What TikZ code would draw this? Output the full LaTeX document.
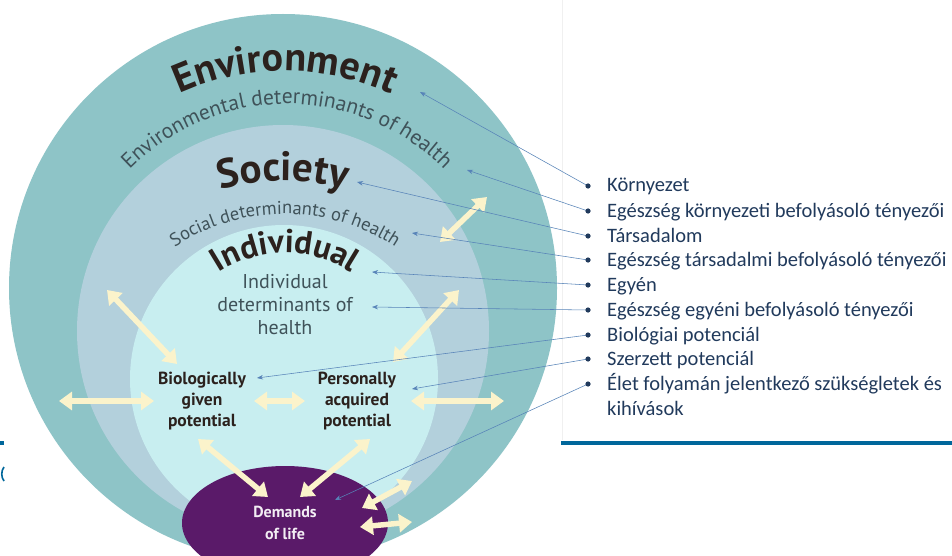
\documentclass[tikz,border=0pt]{standalone}
\usepackage{fontspec}
\setmainfont{PT Sans}
\newfontfamily\listfont{Carlito}
\usetikzlibrary{arrows.meta, decorations.text, shapes.geometric}

\definecolor{envteal}{HTML}{8EC4C7}
\definecolor{socblue}{HTML}{B3D0DC}
\definecolor{indcyan}{HTML}{C8EEF0}
\definecolor{lifepurple}{HTML}{5A1A69}
\definecolor{arrowcream}{HTML}{FBF3CB}
\definecolor{headdark}{HTML}{2B211D}
\definecolor{subgray}{HTML}{3F5259}
\definecolor{listnavy}{HTML}{213A5C}
\definecolor{pointblue}{HTML}{5783B8}
\definecolor{barblue}{HTML}{00679B}

\tikzset{
  twoway/.style={draw=arrowcream, line width=5.5pt,
    {Triangle[width=18pt,length=13pt]}-{Triangle[width=18pt,length=13pt]}},
  pointer/.style={draw=pointblue, line width=0.55pt, -{Stealth[length=6pt,width=4.5pt]}},
  item/.style={anchor=base west, inner sep=0pt, text=listnavy,
    font=\listfont\fontsize{20.5}{24}\selectfont},
  potential/.style={align=center, text=headdark,
    font=\bfseries\fontsize{17.5}{21}\selectfont},
}

% text on an arc: center, radius, half angle, format, text
\newcommand{\arctext}[5]{%
  \path[decorate, decoration={text along path, text align=center,
      text={|#4|#5}}]
    (#1) ++(-90-#3:#2) arc[start angle=-90-#3, end angle=-90+#3, radius=#2];}

\begin{document}
\begin{tikzpicture}[x=1pt, y=-1pt]

  \clip (0,0) rectangle (952,556);
  \fill[white] (0,0) rectangle (952,556);

  % faint edge of the pasted picture
  \draw[black!6] (562,0) -- (562,440);

  % the three circles
  \fill[envteal] (283,288) circle (274);
  \fill[socblue] (283,331) circle (206);
  \fill[indcyan] (284,379) circle (154);

  % titles along the circles
  \arctext{285,326}{255}{40}{\fontsize{40}{40}\selectfont\bfseries\color{headdark}}{Environment}
  \arctext{287,325}{221}{62}{\fontsize{21.5}{21.5}\selectfont\color{subgray}}{Environmental determinants of health}
  \arctext{283,412}{231}{25}{\fontsize{41}{41}\selectfont\bfseries\color{headdark}}{Society}
  \arctext{285,414}{200}{45}{\fontsize{18.5}{18.5}\selectfont\color{subgray}}{Social determinants of health}
  \arctext{285,373}{120}{55}{\fontsize{33}{33}\selectfont\bfseries\color{headdark}}{Individual}

  \node[align=center, text=subgray, font=\fontsize{20}{23}\selectfont] (inddet)
    at (285,305) {Individual\\determinants of\\health};

  \node[potential] (bio) at (202,401) {Biologically\\given\\potential};
  \node[potential] (pers) at (357,401) {Personally\\acquired\\potential};

  \node[ellipse, fill=lifepurple, minimum width=206pt, minimum height=114pt,
    align=center, text=white!92!lifepurple, font=\bfseries\fontsize{16}{22}\selectfont]
    (demands) at (285,523) {Demands\\of life};

  % cream arrows
  \coordinate (a0) at (440,242);  \coordinate (b0) at (487,197);
  \coordinate (a1) at (107,290);  \coordinate (b1) at (177,364);
  \coordinate (a2) at (459,290);  \coordinate (b2) at (393,362);
  \coordinate (a3) at (59,401);   \coordinate (b3) at (154,401);
  \coordinate (a4) at (254,401);  \coordinate (b4) at (305,401);
  \coordinate (a5) at (411,401);  \coordinate (b5) at (504,401);
  \coordinate (a6) at (198,439);  \coordinate (b6) at (268,497);
  \coordinate (a7) at (370,439);  \coordinate (b7) at (300,497);
  \coordinate (a8) at (362,508);  \coordinate (b8) at (412,481);
  \coordinate (a9) at (360,527);  \coordinate (b9) at (412,522);
  \foreach \i in {0,...,9}
    \draw[twoway] (a\i) -- (b\i);

  % list on the right
  \node[item] (l1) at (607,192) {Környezet};
  \node[item] (l2) at (607,217) {Egészség környezeti befolyásoló tényezői};
  \node[item] (l3) at (607,242) {Társadalom};
  \node[item] (l4) at (607,266) {Egészség társadalmi befolyásoló tényezői};
  \node[item] (l5) at (607,291) {Egyén};
  \node[item] (l6) at (607,316) {Egészség egyéni befolyásoló tényezői};
  \node[item] (l7) at (607,341) {Biológiai potenciál};
  \node[item] (l8) at (607,365) {Szerzett potenciál};
  \node[item] (l9) at (607,390) {Élet folyamán jelentkező szükségletek és};
  \node[item] (l10) at (607,415) {kihívások};

  % bullets and the pointers into the picture
  \foreach \i/\y/\tx/\ty in {1/186/420/92, 2/211/467/170, 3/236/357/182,
      4/260/412/233, 5/285/372/272, 6/310/372/307, 7/335/257/378,
      8/359/412/389, 9/384/335/500} {
    \coordinate (k\i) at (588,\y);
    \coordinate (t\i) at (\tx,\ty);
    \draw[pointer] (k\i) -- (t\i);
    \fill[listnavy] (k\i) circle (2.6);
  }

  % slide rules
  \draw[barblue, line width=4pt] (561,443) -- (952,443);
  \draw[barblue, line width=4pt] (0,443) -- (4,443);
  \draw[barblue, line width=1.6pt] (4,467) .. controls (1,471) and (1,477) .. (4,481);

\end{tikzpicture}
\end{document}
